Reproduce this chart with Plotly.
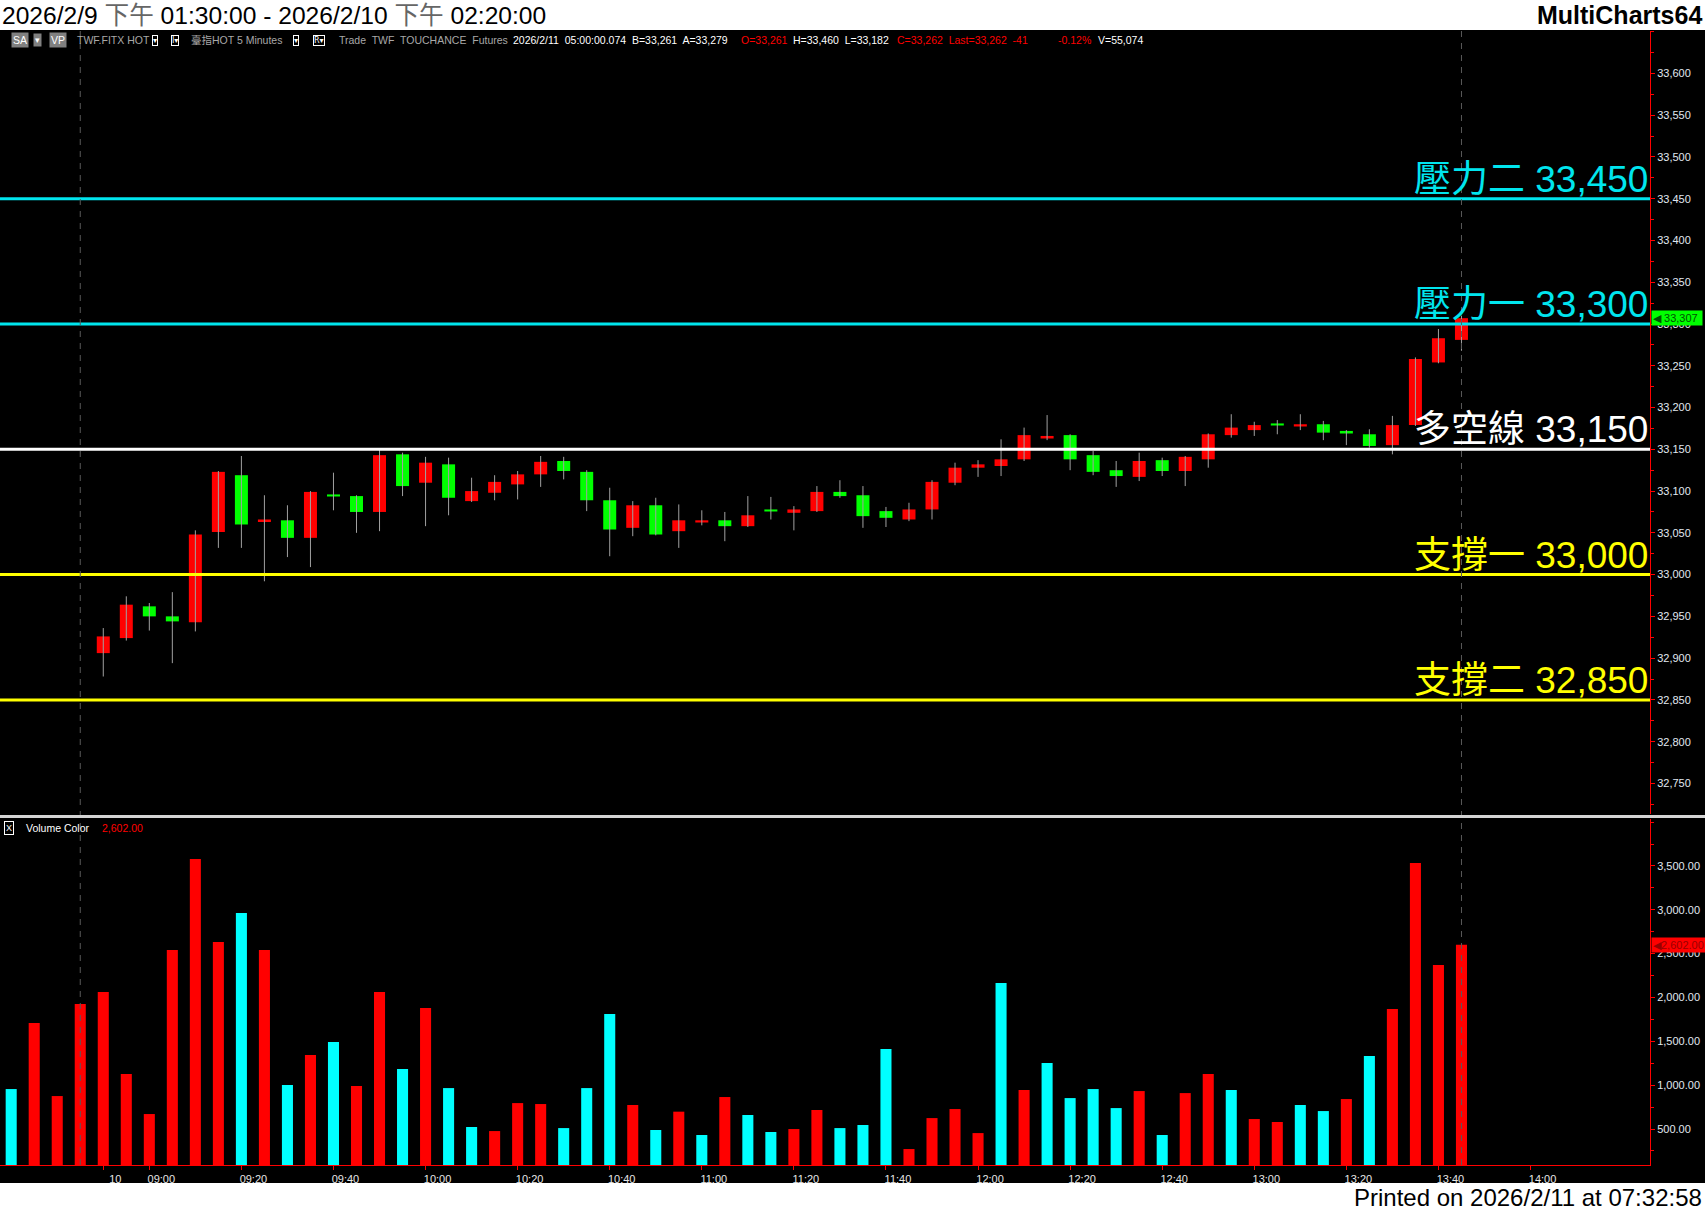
import plotly.graph_objects as go

# ---------------- data ----------------
# 5-minute bars: 4 night-session bars (prices off-screen) + 60 day-session bars (08:50 .. 13:45)
night_bars = 4
day_open = [32906, 32924, 32962, 32950, 32943, 33051, 33119, 33063, 33065, 33044,
            33096, 33094, 33075, 33144, 33110, 33132, 33088, 33098, 33108, 33120,
            33136, 33123, 33089, 33056, 33083, 33052, 33063, 33065, 33058, 33078,
            33074, 33076, 33099, 33095, 33076, 33066, 33078, 33110, 33128, 33130,
            33138, 33164, 33167, 33143, 33125, 33117, 33137, 33124, 33138, 33167,
            33173, 33180, 33178, 33180, 33171, 33168, 33155, 33179, 33254, 33281]
day_high = [32936, 32974, 32966, 32979, 33053, 33124, 33142, 33095, 33083, 33100,
            33122, 33095, 33150, 33146, 33141, 33140, 33116, 33119, 33124, 33142,
            33141, 33125, 33104, 33088, 33092, 33084, 33077, 33075, 33094, 33093,
            33082, 33106, 33113, 33106, 33081, 33086, 33113, 33134, 33137, 33162,
            33176, 33191, 33168, 33148, 33136, 33146, 33140, 33142, 33169, 33192,
            33183, 33185, 33192, 33184, 33173, 33174, 33190, 33260, 33294, 33310]
day_low = [32878, 32921, 32933, 32894, 32932, 33032, 33032, 32992, 33021, 33009,
           33077, 33050, 33052, 33094, 33058, 33071, 33087, 33089, 33090, 33105,
           33114, 33076, 33022, 33046, 33047, 33032, 33059, 33040, 33057, 33066,
           33053, 33075, 33092, 33056, 33057, 33064, 33066, 33107, 33117, 33118,
           33136, 33161, 33125, 33119, 33105, 33112, 33118, 33106, 33128, 33164,
           33166, 33168, 33173, 33161, 33155, 33152, 33144, 33178, 33253, 33268]
day_close = [32926, 32964, 32950, 32944, 33048, 33123, 33060, 33066, 33044, 33099,
             33094, 33075, 33143, 33106, 33134, 33092, 33100, 33111, 33120, 33135,
             33124, 33089, 33054, 33083, 33048, 33065, 33065, 33058, 33071, 33076,
             33078, 33099, 33094, 33070, 33068, 33078, 33111, 33128, 33132, 33138,
             33167, 33166, 33138, 33123, 33118, 33136, 33124, 33141, 33168, 33176,
             33179, 33179, 33180, 33170, 33170, 33154, 33179, 33258, 33283, 33307]

volume = [956, 1708, 876, 1925, 2062, 1127, 671, 2541, 3578, 2632,
          2962, 2541, 1002, 1344, 1492, 990, 2062, 1184, 1879, 967,
          523, 477, 796, 785, 511, 967, 1811, 774, 489, 698,
          432, 865, 660, 466, 500, 717, 511, 546, 1412, 272,
          625, 728, 454, 2164, 945, 1252, 853, 956, 739, 933,
          432, 910, 1127, 945, 614, 580, 774, 705, 842, 1332,
          1868, 3532, 2370, 2602]
volume_dir = list("CRRRRRRRRR" "CRCRCRRCRC" "CRRRCCCRCR" "CRCCRRCCCR"
                  "RRRCRCCCCR" "CRRCRRCCRC" "RRRR")

level_names = ["壓力二", "壓力一", "多空線", "支撐一", "支撐二"]
level_values = [33450, 33300, 33150, 33000, 32850]
level_colors = ["#00E5EE", "#00E5EE", "#FFFFFF", "#FFFF00", "#FFFF00"]

x_tick_index = [4, 6, 10, 14, 18, 22, 26, 30, 34, 38, 42, 46, 50, 54, 58, 62, 66]
x_tick_labels = ["10", "09:00", "09:20", "09:40", "10:00", "10:20", "10:40", "11:00",
                 "11:20", "11:40", "12:00", "12:20", "12:40", "13:00", "13:20", "13:40", "14:00"]
price_ticks = [32750, 32800, 32850, 32900, 32950, 33000, 33050, 33100, 33150, 33200,
               33250, 33300, 33350, 33400, 33450, 33500, 33550, 33600]
volume_ticks = [500, 1000, 1500, 2000, 2500, 3000, 3500]

# ---------------- geometry helpers ----------------
W, H = 1705, 1211
def py(p):
    return 1 - p / H
def px(p):
    return p / W

X_RANGE = [-0.4865, 71.19]
AXIS_X = 1650
RED = "#FF0000"
GREEN = "#00FF00"
CYAN = "#00FFFF"
SANS = "Liberation Sans, Arial, sans-serif"
CJK = "Liberation Sans, Noto Sans CJK TC, sans-serif"

day_x = [night_bars + k for k in range(len(day_open))]
vol_x = list(range(len(volume)))

fig = go.Figure()

# wicks
wx, wy = [], []
for x, lo, hi in zip(day_x, day_low, day_high):
    wx += [x, x, None]
    wy += [lo, hi, None]
fig.add_trace(go.Scatter(x=wx, y=wy, mode="lines", line=dict(color="#A0A0A0", width=1),
                         hoverinfo="skip", showlegend=False, xaxis="x", yaxis="y"))

# bodies
body_base = [min(o, c) for o, c in zip(day_open, day_close)]
body_h = [max(abs(c - o), 2) for o, c in zip(day_open, day_close)]
body_col = [RED if c >= o else GREEN for o, c in zip(day_open, day_close)]
fig.add_trace(go.Bar(x=day_x, y=body_h, base=body_base, width=0.565,
                     marker=dict(color=body_col, line=dict(width=0)),
                     showlegend=False, xaxis="x", yaxis="y"))

# volume
fig.add_trace(go.Bar(x=vol_x, y=volume, width=0.48,
                     marker=dict(color=[RED if d == "R" else CYAN for d in volume_dir],
                                 line=dict(width=0)),
                     showlegend=False, xaxis="x2", yaxis="y2"))

shapes = []
# black chart background
shapes.append(dict(type="rect", xref="paper", yref="paper", x0=0, x1=1, y0=py(1183), y1=py(30),
                   fillcolor="black", line=dict(width=0), layer="below"))
# level lines
for v, c in zip(level_values, level_colors):
    shapes.append(dict(type="line", xref="x domain", yref="y", x0=0, x1=1, y0=v, y1=v,
                       line=dict(color=c, width=3)))
# dashed session / last-bar markers
for b in [night_bars - 1, len(volume) - 1]:
    shapes.append(dict(type="line", xref="x", yref="paper", x0=b, x1=b, y0=py(1165), y1=py(30.5),
                       line=dict(color="#5A5A5A", width=1, dash="6px,6px")))
# pane separator
shapes.append(dict(type="line", xref="paper", yref="paper", x0=0, x1=1, y0=py(816.5), y1=py(816.5),
                   line=dict(color="#D4D4D4", width=3)))

ann = []
def A(text, x, y, size=10.5, color="white", family=SANS, xanchor="left", yanchor="middle", **kw):
    d = dict(text=text, x=x, y=y, xref="paper", yref="paper", xanchor=xanchor, yanchor=yanchor,
             showarrow=False, font=dict(size=size, color=color, family=family))
    d.update(kw)
    ann.append(d)

# header
A('2026/2/9 <span style="color:#666666">下午</span> 01:30:00 - 2026/2/10 <span style="color:#666666">下午</span> 02:20:00',
  px(0), py(15), size=24.6, color="black", family=CJK)
A("<b>MultiCharts64</b>", px(1704), py(15), size=25, color="black", family=SANS, xanchor="right")
# footer
A("Printed on 2026/2/11 at 07:32:58", px(1704), py(1197), size=24, color="black", family=SANS,
  xanchor="right")

# info bar
y_info = py(40)
GREY = "#A8A8A8"
A("SA", px(11), y_info, color="white", bgcolor="#808080", borderpad=1)
A("▾", px(33), y_info, size=9, color="white", family="DejaVu Sans", bgcolor="#808080", borderpad=1)
A("VP", px(49), y_info, color="white", bgcolor="#808080", borderpad=1)
A("TWF.FITX HOT", px(75), y_info, color=GREY)
A("▾", px(152), y_info, size=8, color="white", family="DejaVu Sans", bordercolor="white",
  borderwidth=1, borderpad=0)
A("I▾", px(171), y_info, size=8, color="white", family="DejaVu Sans", bordercolor="white",
  borderwidth=1, borderpad=0)
A("臺指HOT 5 Minutes", px(189), y_info, color=GREY, family=SANS + ", Noto Sans CJK TC")
A("▾", px(293), y_info, size=8, color="white", family="DejaVu Sans", bordercolor="white",
  borderwidth=1, borderpad=0)
A("R▾", px(313), y_info, size=8, color="white", family="DejaVu Sans", bordercolor="white",
  borderwidth=1, borderpad=0)
A("Trade\u00a0 TWF\u00a0 TOUCHANCE\u00a0 Futures", px(337), y_info, color=GREY)
A("2026/2/11\u00a0 05:00:00.074\u00a0 B=33,261\u00a0 A=33,279", px(511), y_info, color="white")
A("O=33,261", px(739), y_info, color=RED)
A("H=33,460\u00a0 L=33,182", px(791), y_info, color="white")
A("C=33,262\u00a0 Last=33,262\u00a0 -41", px(895), y_info, color=RED)
A("-0.12%", px(1056), y_info, color=RED)
A("V=55,074", px(1096), y_info, color="white")

# volume pane title
A("X", px(4), py(828), size=9, color="white", bordercolor="white", borderwidth=1, borderpad=1)
A("Volume Color", px(24), py(828), color="white")
A(f"{volume[-1]:,.2f}", px(100), py(828), color=RED)

# level labels
for name, v, c in zip(level_names, level_values, level_colors):
    ann.append(dict(text=f"{name} {v:,}", x=px(AXIS_X), y=v, xref="paper", yref="y",
                    xanchor="right", yanchor="bottom", yshift=-3, showarrow=False,
                    font=dict(size=37, color=c, family=CJK)))

# last value boxes (arrow-tagged labels on the axes)
ann.append(dict(text=f"◀ {day_close[-1]:,} ", x=px(1651), y=day_close[-1], xref="paper", yref="y",
                xanchor="left", yanchor="middle", showarrow=False, bgcolor=GREEN, borderpad=1,
                font=dict(size=11, color="#005000", family=SANS)))
ann.append(dict(text=f"◀{volume[-1]:,.2f}", x=px(1651), y=volume[-1], xref="paper", yref="y2",
                xanchor="left", yanchor="middle", showarrow=False, bgcolor=RED, borderpad=1,
                font=dict(size=11, color="#9A0000", family=SANS)))

dom_x = [0, AXIS_X / W]
fig.update_layout(
    width=W, height=H, margin=dict(l=0, r=0, t=0, b=0),
    paper_bgcolor="white", plot_bgcolor="black", barmode="overlay", showlegend=False,
    shapes=shapes, annotations=ann,
    xaxis=dict(domain=dom_x, range=X_RANGE, anchor="y", showticklabels=False, showgrid=False,
               zeroline=False, showline=False, ticks="", fixedrange=True),
    xaxis2=dict(domain=dom_x, range=X_RANGE, anchor="y2", matches="x", showgrid=False,
                zeroline=False, showline=True, linecolor=RED, linewidth=1,
                tickmode="array", tickvals=x_tick_index, ticktext=x_tick_labels,
                ticks="outside", ticklen=4, tickcolor=RED, ticklabelshift=12,
                tickfont=dict(size=11, color="#E6E6E6", family=SANS)),
    yaxis=dict(domain=[py(814), py(30.5)], range=[32713.4, 33651.4], anchor="x", side="right",
               showgrid=False, zeroline=False, showline=True, linecolor=RED, linewidth=1,
               tickmode="array", tickvals=price_ticks, tickformat=",d",
               ticks="outside", ticklen=4, tickcolor=RED,
               minor=dict(ticks="outside", ticklen=3, tickcolor=RED, dtick=25, tick0=0, showgrid=False),
               tickfont=dict(size=11, color="#E0E8F0", family=SANS)),
    yaxis2=dict(domain=[py(1165), py(819)], range=[90, 4035], anchor="x2", side="right",
                showgrid=False, zeroline=False, showline=True, linecolor=RED, linewidth=1,
                tickmode="array", tickvals=volume_ticks, tickformat=",.2f",
                ticks="outside", ticklen=4, tickcolor=RED,
                minor=dict(ticks="outside", ticklen=3, tickcolor=RED, dtick=250, tick0=0, showgrid=False),
                tickfont=dict(size=11, color="#E0E8F0", family=SANS)),
)

fig.write_html("out.html", config={"displayModeBar": False},
               post_script="document.body.style.margin='0px';document.body.style.overflow='hidden';")
